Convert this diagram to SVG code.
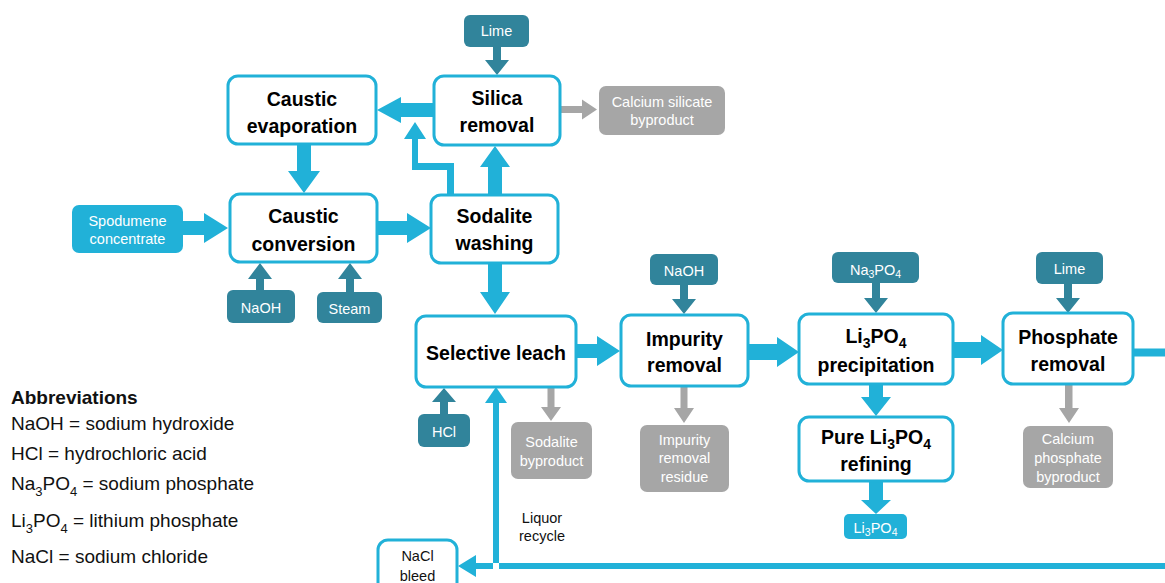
<svg xmlns="http://www.w3.org/2000/svg" width="1165" height="583" viewBox="0 0 1165 583">
<style>
.node rect{fill:#fff;stroke:#21B1D8;stroke-width:3}
.t{font-family:"Liberation Sans",Arial,sans-serif;font-weight:bold;font-size:19.5px;fill:#000;text-anchor:middle}
.l{font-family:"Liberation Sans",Arial,sans-serif;font-size:14.5px;fill:#fff;text-anchor:middle}
.lg{font-family:"Liberation Sans",Arial,sans-serif;font-size:19px;fill:#111}
.n{font-family:"Liberation Sans",Arial,sans-serif;font-size:14.5px;fill:#111;text-anchor:middle}
.cy{fill:#21B1D8}.tl{fill:#31849B}.gr{fill:#A6A6A6}
</style>
<rect width="1165" height="583" fill="#fff"/>
<g id="connectors">
<!-- cyan main flow -->
<polygon class="cy" points="434,103 401,103 401,97 377,110 401,123 401,117 434,117"/>
<polygon class="cy" points="454,196 454,163 418,163 418,139 426,139 415,122 404,139 412,139 412,170 447,170 447,196"/>
<polygon class="cy" points="488,196 488,167 480,167 495,146 510,167 502,167 502,196"/>
<polygon class="cy" points="297,144 297,171 288,171 304,193 320,171 311,171 311,144"/>
<polygon class="cy" points="183,221 204,221 204,213 228,228 204,243 204,235 183,235"/>
<polygon class="cy" points="377,221 407,221 407,213 431,228 407,243 407,235 377,235"/>
<polygon class="cy" points="488,263 488,292 480,292 495,314 510,292 502,292 502,263"/>
<polygon class="cy" points="576,344 597,344 597,336 620,351 597,366 597,358 576,358"/>
<polygon class="cy" points="748,344 777,344 777,337 799,352 777,367 777,360 748,360"/>
<polygon class="cy" points="953,342 981,342 981,335 1003,350 981,365 981,358 953,358"/>
<polygon class="cy" points="869,384 869,397 861,397 876,416 891,397 883,397 883,384"/>
<polygon class="cy" points="869,481 869,500 861,500 876,514 891,500 883,500 883,481"/>
<rect class="cy" x="1133" y="348.5" width="32" height="8"/>
<polygon class="cy" points="1165,563 493,563 493,403 485,403 496,387 507,403 499,403 499,569 1165,569"/>
<polygon class="cy" points="493,563 476,563 476,555 458,566 476,577 476,569 493,569"/>
<!-- teal inputs -->
<polygon class="tl" points="493,47 493,60 485,60 497,75 509,60 501,60 501,47"/>
<polygon class="tl" points="256,290 256,279 248,279 260,263 272,279 264,279 264,290"/>
<polygon class="tl" points="346,292 346,279 338,279 350,263 362,279 354,279 354,292"/>
<polygon class="tl" points="440,414 440,402 432,402 444,388 456,402 448,402 448,414"/>
<polygon class="tl" points="680,285 680,299 672,299 684,314 696,299 688,299 688,285"/>
<polygon class="tl" points="872,283 872,298 864,298 876,313 888,298 880,298 880,283"/>
<polygon class="tl" points="1064,284 1064,298 1056,298 1068,313 1080,298 1072,298 1072,284"/>
<!-- gray outputs -->
<polygon class="gr" points="560,106 582,106 582,99.5 597,109.5 582,119.5 582,113 560,113"/>
<polygon class="gr" points="547.5,388 547.5,407 541,407 551,421 561,407 554.5,407 554.5,388"/>
<polygon class="gr" points="680.5,387 680.5,408 674,408 684,423 694,408 687.5,408 687.5,387"/>
<polygon class="gr" points="1065,385 1065,408 1059,408 1069,423 1079,408 1072.5,408 1072.5,385"/>
</g>
<g id="caustic-evaporation" class="node"><rect x="228" y="76" width="148" height="68" rx="10"/><text class="t" x="302" y="106">Caustic</text><text class="t" x="302" y="133">evaporation</text></g>
<g id="caustic-conversion" class="node"><rect x="230" y="194" width="147" height="68" rx="10"/><text class="t" x="303.5" y="223">Caustic</text><text class="t" x="303.5" y="251">conversion</text></g>
<g id="silica-removal" class="node"><rect x="434" y="76" width="126" height="69" rx="10"/><text class="t" x="497" y="105">Silica</text><text class="t" x="497" y="132">removal</text></g>
<g id="sodalite-washing" class="node"><rect x="431" y="195" width="127" height="68" rx="10"/><text class="t" x="494.5" y="223">Sodalite</text><text class="t" x="494.5" y="250">washing</text></g>
<g id="selective-leach" class="node"><rect x="416" y="316" width="160" height="71" rx="10"/><text class="t" x="496" y="360">Selective leach</text></g>
<g id="impurity-removal" class="node"><rect x="621" y="315" width="127" height="71" rx="10"/><text class="t" x="684.5" y="346">Impurity</text><text class="t" x="684.5" y="372">removal</text></g>
<g id="li3po4-precipitation" class="node"><rect x="799" y="314" width="154" height="70" rx="10"/><text class="t" x="876" y="343">Li<tspan font-size="14" dy="5">3</tspan><tspan dy="-5">PO</tspan><tspan font-size="14" dy="5">4</tspan></text><text class="t" x="876" y="372">precipitation</text></g>
<g id="pure-li3po4-refining" class="node"><rect x="799" y="417" width="154" height="64" rx="10"/><text class="t" x="876" y="444">Pure Li<tspan font-size="14" dy="5">3</tspan><tspan dy="-5">PO</tspan><tspan font-size="14" dy="5">4</tspan></text><text class="t" x="876" y="471">refining</text></g>
<g id="phosphate-removal" class="node"><rect x="1003" y="313" width="130" height="71" rx="10"/><text class="t" x="1068" y="344">Phosphate</text><text class="t" x="1068" y="371">removal</text></g>
<g id="nacl-bleed" class="node"><rect x="378" y="540" width="79" height="60" rx="10"/><text class="n" x="417.5" y="561" font-size="16">NaCl</text><text class="n" x="417.5" y="581" font-size="16">bleed</text></g>
<g id="lime-1"><rect class="tl" x="464" y="15" width="65" height="32" rx="6"/><text class="l" x="496.5" y="36">Lime</text></g>
<g id="calcium-silicate"><rect class="gr" x="599" y="86" width="126" height="49" rx="7"/><text class="l" x="662" y="107">Calcium silicate</text><text class="l" x="662" y="125">byproduct</text></g>
<g id="spodumene"><rect class="cy" x="72" y="205" width="111" height="48" rx="7"/><text class="l" x="127.5" y="226">Spodumene</text><text class="l" x="127.5" y="244">concentrate</text></g>
<g id="naoh-1"><rect class="tl" x="227" y="290" width="68" height="33" rx="6"/><text class="l" x="261" y="313">NaOH</text></g>
<g id="steam"><rect class="tl" x="317" y="292" width="65" height="31" rx="6"/><text class="l" x="349.5" y="314">Steam</text></g>
<g id="hcl"><rect class="tl" x="418" y="414" width="52" height="33" rx="6"/><text class="l" x="444" y="437">HCl</text></g>
<g id="sodalite-byproduct"><rect class="gr" x="511" y="422" width="81" height="57" rx="7"/><text class="l" x="551.5" y="447">Sodalite</text><text class="l" x="551.5" y="466">byproduct</text></g>
<g id="naoh-2"><rect class="tl" x="650" y="254" width="68" height="31" rx="6"/><text class="l" x="684" y="276">NaOH</text></g>
<g id="impurity-residue"><rect class="gr" x="640" y="425" width="89" height="67" rx="7"/><text class="l" x="684.5" y="445">Impurity</text><text class="l" x="684.5" y="463">removal</text><text class="l" x="684.5" y="482">residue</text></g>
<g id="na3po4"><rect class="tl" x="832" y="252" width="87" height="31" rx="6"/><text class="l" x="875.5" y="275">Na<tspan font-size="10.5" dy="3">3</tspan><tspan dy="-3">PO</tspan><tspan font-size="10.5" dy="3">4</tspan></text></g>
<g id="li3po4-product"><rect class="cy" x="844" y="514" width="63" height="25" rx="5"/><text class="l" x="875.5" y="533">Li<tspan font-size="10.5" dy="3">3</tspan><tspan dy="-3">PO</tspan><tspan font-size="10.5" dy="3">4</tspan></text></g>
<g id="lime-2"><rect class="tl" x="1036" y="252" width="67" height="32" rx="6"/><text class="l" x="1069.5" y="274">Lime</text></g>
<g id="calcium-phosphate"><rect class="gr" x="1023" y="426" width="90" height="62" rx="7"/><text class="l" x="1068" y="444">Calcium</text><text class="l" x="1068" y="463">phosphate</text><text class="l" x="1068" y="482">byproduct</text></g>
<g id="liquor-recycle-label"><text class="n" x="542" y="523">Liquor</text><text class="n" x="542" y="541">recycle</text></g>
<g id="legend">
<text class="lg" x="11" y="404" font-weight="bold" font-size="18.5">Abbreviations</text>
<text class="lg" x="11" y="430">NaOH = sodium hydroxide</text>
<text class="lg" x="11" y="460">HCl = hydrochloric acid</text>
<text class="lg" x="11" y="490">Na<tspan font-size="13" dy="6">3</tspan><tspan dy="-6">PO</tspan><tspan font-size="13" dy="6">4</tspan><tspan dy="-6"> = sodium phosphate</tspan></text>
<text class="lg" x="11" y="527">Li<tspan font-size="13" dy="6">3</tspan><tspan dy="-6">PO</tspan><tspan font-size="13" dy="6">4</tspan><tspan dy="-6"> = lithium phosphate</tspan></text>
<text class="lg" x="11" y="563">NaCl = sodium chloride</text>
</g>
</svg>
